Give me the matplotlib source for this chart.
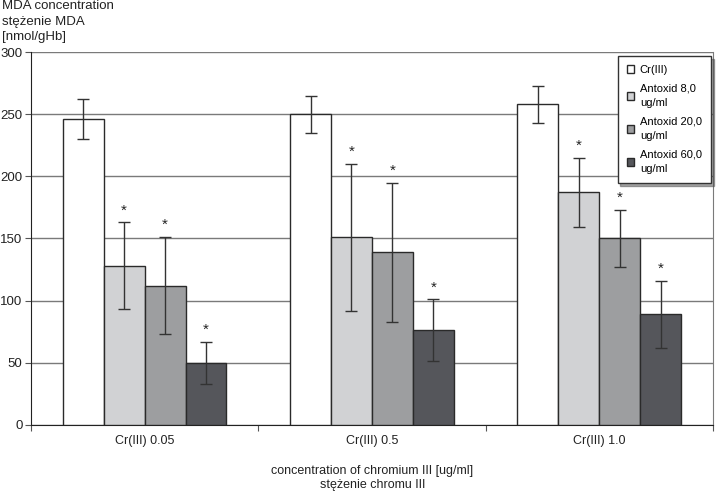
from matplotlib import pyplot as plt
import numpy as np

# data
groups = ['Cr(III) 0.05', 'Cr(III) 0.5', 'Cr(III) 1.0']
series = ['Cr(III)', 'Antoxid 8,0\nug/ml', 'Antoxid 20,0\nug/ml', 'Antoxid 60,0\nug/ml']
cr_only = [246, 250, 258]
antox_8 = [128, 151, 187]
antox_20 = [112, 139, 150]
antox_60 = [50, 76, 89]
sd_cr = [16, 15, 15]
sd_8 = [35, 59, 28]
sd_20 = [39, 56, 23]
sd_60 = [17, 25, 27]
significant = [False, True, True, True]

colors = ['#ffffff', '#d1d2d4', '#9d9ea0', '#55565b']

plt.rcParams['font.family'] = ['Liberation Sans', 'DejaVu Sans']
fig = plt.figure(figsize=(7.2, 4.94), dpi=100)
ax = fig.add_axes([0.043, 0.140, 0.947, 0.7547])

values = [cr_only, antox_8, antox_20, antox_60]
errs = [sd_cr, sd_8, sd_20, sd_60]
x = np.arange(len(groups))
w = 0.18
for i in range(4):
    pos = x - 1.5 * w + i * w
    ax.bar(pos, values[i], w, color=colors[i], edgecolor='#2a2a2a', linewidth=1.0,
           label=series[i], zorder=3)
    ax.errorbar(pos, values[i], yerr=errs[i], fmt='none', ecolor='#333333',
                elinewidth=1.0, capsize=4, capthick=1.0, zorder=4)
    if significant[i]:
        for p, v, e in zip(pos, values[i], errs[i]):
            ax.text(p, v + e + 4, '*', ha='center', va='bottom', fontsize=11, color='#222222')

ax.set_xlim(-0.5, 2.5)
ax.set_ylim(0, 300)
ax.set_yticks(range(0, 301, 50))
ax.yaxis.grid(True, color='#7a7a7a', linewidth=1.0, zorder=0)
ax.set_xticks([-0.5, 0.5, 1.5, 2.5])
ax.set_xticklabels([])
ax.tick_params(axis='x', direction='out', length=4, color='#555555')
ax.tick_params(axis='y', direction='out', length=4, color='#555555', labelsize=9.5,
               labelcolor='#222222', pad=2)
for g, lab in zip(x, groups):
    ax.text(g, -13, lab, ha='center', va='center', fontsize=9, color='#222222')

ax.spines['top'].set_visible(False)
ax.spines['right'].set_color('#7a7a7a')
ax.spines['left'].set_color('#222222')
ax.spines['bottom'].set_color('#222222')

fig.text(0.003, 1.0, 'MDA concentration\nstężenie MDA\n[nmol/gHb]', ha='left',
         va='top', fontsize=9.5, color='#222222', linespacing=1.4)
fig.text(0.517, 1 - 478 / 494, 'concentration of chromium III [ug/ml]\nstężenie chromu III',
         ha='center', va='center', fontsize=9, color='#222222', linespacing=1.15)

leg = ax.legend(loc='upper right', bbox_to_anchor=(0.997, 0.989), fontsize=8,
                frameon=True, fancybox=False, shadow=True, handlelength=0.7,
                handleheight=0.7, borderpad=0.8, labelspacing=0.75, handletextpad=0.5,
                borderaxespad=0)
leg.get_frame().set_edgecolor('#333333')
leg.get_frame().set_linewidth(1.0)
for t in leg.get_texts():
    t.set_linespacing(1.6)

plt.savefig('out.png', dpi=100)
